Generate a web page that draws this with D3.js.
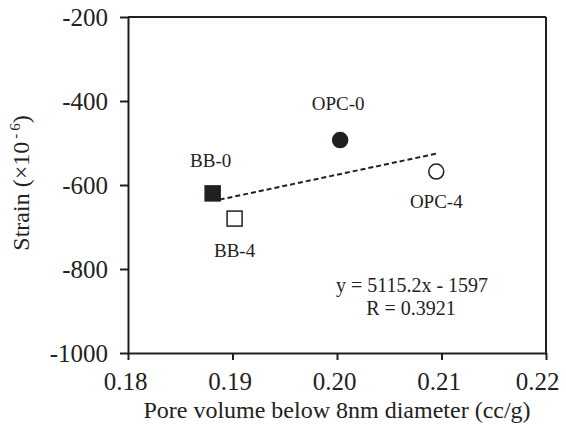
<!DOCTYPE html>
<html><head><meta charset="utf-8">
<script src="https://cdn.jsdelivr.net/npm/d3@7"></script>
<style>body{margin:0;background:#fff}svg{display:block}svg text{font-family:"Liberation Serif","Times New Roman",serif !important;fill:#222}</style>
</head><body><svg id="c" width="566" height="428"></svg>
<script>
const labels = ["BB-0", "BB-4", "OPC-0", "OPC-4"];
const poreVolume = [0.1881, 0.1902, 0.2003, 0.2095];
const strain = [-620, -680, -493, -568];
const filled = [true, false, true, false];
const shapes = ["square", "square", "circle", "circle"];
const xTicks = [0.18, 0.19, 0.20, 0.21, 0.22];
const yTicks = [-200, -400, -600, -800, -1000];
const slope = 5115.2, intercept = -1597;

const svg = d3.select("#c");
const m = {l:128, r:546, t:17, b:353};
const x = d3.scaleLinear().domain([0.18,0.22]).range([m.l,m.r]);
const y = d3.scaleLinear().domain([-1000,-200]).range([m.b,m.t]);
const col = "#231f20";
const FF = "Liberation Serif";

svg.append("line").attr("x1",m.l).attr("x2",m.r).attr("y1",m.t).attr("y2",m.t).attr("stroke",col).attr("stroke-width",2);
svg.append("line").attr("x1",m.r).attr("x2",m.r).attr("y1",m.t).attr("y2",m.b).attr("stroke",col).attr("stroke-width",2);

const xa = svg.append("g").attr("transform",`translate(0,${m.b})`)
  .call(d3.axisBottom(x).tickValues(xTicks).tickFormat(d3.format(".2f")).tickSize(7).tickSizeOuter(0));
const ya = svg.append("g").attr("transform",`translate(${m.l},0)`)
  .call(d3.axisLeft(y).tickValues(yTicks).tickFormat(d=>d).tickSize(8).tickSizeOuter(0));
[xa,ya].forEach(a=>{
  a.attr("font-family",FF).attr("font-size",25);
  a.select(".domain").attr("stroke",col).attr("stroke-width",2);
  a.selectAll(".tick line").attr("stroke",col).attr("stroke-width",2);
  a.selectAll("text").attr("font-family",FF).attr("font-size",25).attr("fill","#222");
});
xa.selectAll("text").attr("y",37).attr("dy",0)
  .attr("dx",(d,i)=> i===xTicks.length-1 ? -9 : -3);
ya.selectAll("text").attr("x",-20).attr("dy","0.34em");

svg.append("text").attr("x",337).attr("y",418).attr("text-anchor","middle").attr("font-size",24).attr("font-family",FF)
  .text("Pore volume below 8nm diameter (cc/g)");
const yt = svg.append("text").attr("transform","translate(29,183) rotate(-90)").attr("text-anchor","middle").attr("font-size",24).attr("font-family",FF);
yt.append("tspan").text("Strain (\u00d710");
yt.append("tspan").text("\u2009-\u2009").attr("font-size",15).attr("dy",-9);
yt.append("tspan").text("6").attr("font-size",15);
yt.append("tspan").text(")").attr("dy",9);

const x0 = d3.min(poreVolume), x1 = d3.max(poreVolume);
svg.append("line").attr("x1",x(x0)+7).attr("y1",y(slope*(x0)+intercept))
  .attr("x2",x(x1)).attr("y2",y(slope*x1+intercept))
  .attr("stroke",col).attr("stroke-width",2).attr("stroke-dasharray","5,3");

labels.forEach((l,i)=>{
  const cx = x(poreVolume[i]), cy = y(strain[i]);
  if(shapes[i]==="square"){
    svg.append("rect").attr("x",cx-7.5).attr("y",cy-7.5).attr("width",15).attr("height",15)
      .attr("fill",filled[i]?col:"#fff").attr("stroke",col).attr("stroke-width",1.5);
  } else {
    svg.append("circle").attr("cx",cx).attr("cy",cy).attr("r",7.5)
      .attr("fill",filled[i]?col:"#fff").attr("stroke",col).attr("stroke-width",1.5);
  }
});
const lblOff = [[-2,-26],[0,38],[-2,-30],[0,36]];
labels.forEach((l,i)=>{
  svg.append("text").attr("x",x(poreVolume[i])+lblOff[i][0]).attr("y",y(strain[i])+lblOff[i][1])
    .attr("text-anchor","middle").attr("font-size",19).attr("font-family",FF).text(l);
});

svg.append("text").attr("x",412).attr("y",292).attr("text-anchor","middle").attr("font-size",20).attr("font-family",FF)
  .text("y = 5115.2x - 1597");
svg.append("text").attr("x",411).attr("y",315).attr("text-anchor","middle").attr("font-size",20).attr("font-family",FF)
  .text("R = 0.3921");
</script></body></html>
